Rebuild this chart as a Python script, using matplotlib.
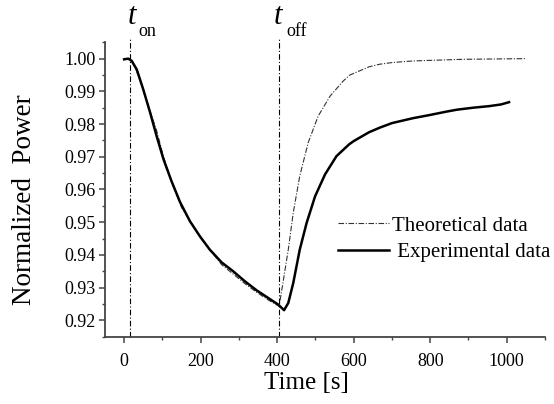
import matplotlib

matplotlib.use("Agg")
import matplotlib.pyplot as plt
from matplotlib.ticker import MultipleLocator

plt.rcParams["font.family"] = ["Liberation Serif", "DejaVu Serif"]

# experimental trace
exp_t = [0, 11, 20, 33, 50, 68, 85, 103, 124, 146, 172, 198, 224, 255, 285,
         316, 346, 377, 403, 418, 429, 442, 459, 477, 499, 525, 555, 588,
         600, 640, 668, 700, 755, 800, 842, 870, 912, 955, 985, 1006]
exp_p = [0.9998, 1.0000, 0.9993, 0.9967, 0.9906, 0.9835, 0.9763, 0.9692,
         0.9625, 0.9562, 0.9503, 0.9457, 0.9416, 0.9377, 0.9350, 0.9319,
         0.9292, 0.9268, 0.9248, 0.9231, 0.9253, 0.9314, 0.9416, 0.9498,
         0.9579, 0.9646, 0.9702, 0.9738, 0.9748, 0.9775, 0.9789, 0.9803,
         0.9818, 0.9828, 0.9838, 0.9844, 0.9850, 0.9855, 0.9860, 0.9867]

# theoretical model
th_t = [0, 15, 21, 38, 66, 85, 103, 124, 150, 200, 255, 316, 346, 377, 405,
        415, 429, 442, 459, 481, 507, 538, 572, 590, 640, 668, 700, 755,
        886, 1048]
th_p = [0.9998, 0.9998, 0.9991, 0.9947, 0.9845, 0.9780, 0.9700, 0.9625,
        0.9545, 0.9452, 0.9370, 0.9312, 0.9286, 0.9262, 0.9243, 0.9314,
        0.9416, 0.9529, 0.9641, 0.9743, 0.9824, 0.9885, 0.9931, 0.9950,
        0.9975, 0.9983, 0.9988, 0.9993, 0.9998, 1.0000]

t_on = 16
t_off = 405

fig = plt.figure(figsize=(5.54, 4.04), dpi=100)
ax = fig.add_axes([0.1895, 0.1666, 0.7943, 0.7287])

ax.plot(th_t, th_p, color="#333333", lw=0.8, dashes=(5, 1.5, 1, 1.5),
        label="Theoretical data")
ax.plot(exp_t, exp_p, color="black", lw=1.8, label=" Experimental data")

for t in (t_on, t_off):
    ax.plot([t, t], [0.915, 1.0063], color="black", lw=0.8,
            dashes=(5, 2, 1, 2), clip_on=False)

ax.text(21, 1.0105, "t", style="italic", fontsize=22, ha="center",
        va="baseline", clip_on=False)
ax.text(36, 1.0068, "on", fontsize=13, va="baseline", clip_on=False)
ax.text(403, 1.0105, "t", style="italic", fontsize=22, ha="center",
        va="baseline", clip_on=False)
ax.text(425, 1.0068, "off", fontsize=13, va="baseline", clip_on=False)

ax.set_xlim(-50, 1100)
ax.set_ylim(0.915, 1.005)
ax.xaxis.set_major_locator(MultipleLocator(200))
ax.xaxis.set_minor_locator(MultipleLocator(100))
ax.yaxis.set_major_locator(MultipleLocator(0.01))
ax.yaxis.set_minor_locator(MultipleLocator(0.005))
ax.yaxis.set_major_formatter(lambda v, _: f"{v:.2f}")

for side in ("top", "right"):
    ax.spines[side].set_visible(False)
for side in ("left", "bottom"):
    ax.spines[side].set_color("#444444")
    ax.spines[side].set_linewidth(1.3)

ax.tick_params(which="major", length=4, width=1.1, color="#444444",
               labelsize=13)
ax.tick_params(which="minor", length=2.2, width=1.0, color="#444444")
ax.tick_params(axis="x", which="major", pad=8)
ax.tick_params(axis="y", which="major", pad=3)

ax.set_xlabel("Time [s]", fontsize=18)
ax.xaxis.set_label_coords(0.458, -0.12)
ax.set_ylabel("Normalized  Power", fontsize=19.5, va="center")
ax.yaxis.set_label_coords(-0.182, 0.464)

ax.legend(loc="upper left", bbox_to_anchor=(0.5295, 0.41), frameon=False,
          fontsize=15, handlelength=2.45, handletextpad=0.15,
          labelspacing=0.32, borderpad=0, borderaxespad=0)

fig.savefig("out.png", dpi=100)
